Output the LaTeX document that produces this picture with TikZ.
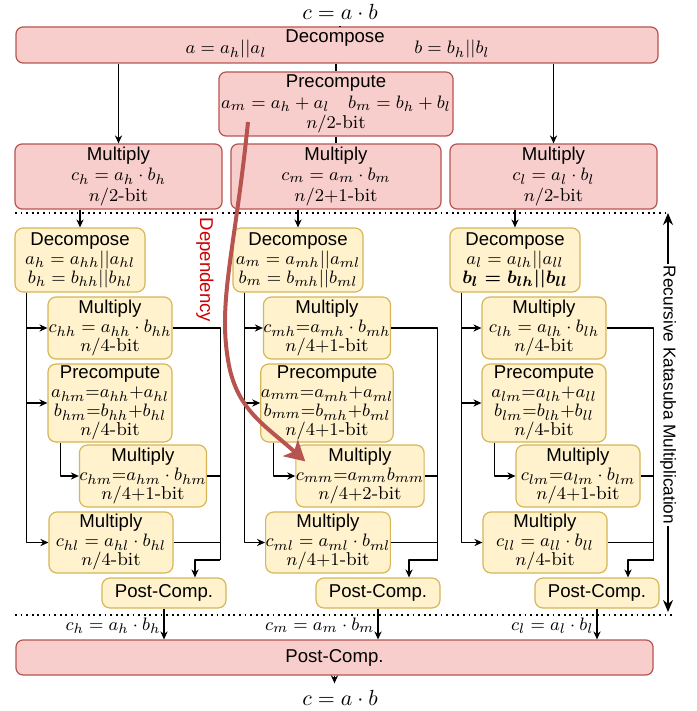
\documentclass[tikz,border=0pt]{standalone}
\usepackage{amsmath}
\usepackage{fontspec}
\setsansfont{Liberation Sans}
\usetikzlibrary{arrows.meta}
\definecolor{pinkfill}{HTML}{F8CECC}
\definecolor{pinkline}{HTML}{B85450}
\definecolor{yelfill}{HTML}{FFF2CC}
\definecolor{yelline}{HTML}{D6B656}
\definecolor{depred}{HTML}{CC0000}
\begin{document}
\begin{tikzpicture}[x=0.5pt, y=-0.5pt, >={Stealth[length=4pt,width=3.6pt]},
    font=\sffamily\fontsize{9.3}{10.4}\selectfont, line join=round,
    pinkbox/.style={draw=pinkline, fill=pinkfill, line width=0.6pt, rounded corners=3.5pt, align=center, inner sep=0pt},
    yelbox/.style={draw=yelline, fill=yelfill, line width=0.6pt, rounded corners=4pt, align=center, inner sep=0pt,
        minimum width=62pt, font=\sffamily\fontsize{9.3}{9.5}\selectfont},
    conn/.style={->, line width=0.6pt},
    wire/.style={line width=0.6pt},
    dots/.style={line width=0.9pt, dash pattern=on 0.9pt off 1.9pt},
    eqn/.style={font=\fontsize{11}{13}\selectfont}]
    \useasboundingbox (0,0) rectangle (696,711);
    % top level
    \node[eqn] (ctop) at (340,12) {$c = a\cdot b$};
    \node[pinkbox, minimum width=321pt, minimum height=18pt] (dec) at (337,45) {};
    \node (dectitle) at (335,38) {Decompose};
    \node (deca) at (226,49) {$a = a_h||a_l$};
    \node (decb) at (452,49) {$b = b_h||b_l$};
    \node[pinkbox, minimum width=117pt, minimum height=32pt] (pre) at (336,104) {Precompute\\$a_m = a_h + a_l \quad b_m = b_h + b_l$\\$n/2$\textrm{-bit}};
    \node[pinkbox, minimum width=103.5pt, minimum height=32.5pt] (mulh) at (118.5,176.5) {Multiply\\$c_h = a_h\cdot b_h$\\$n/2$\textrm{-bit}};
    \node[pinkbox, minimum width=105pt, minimum height=32.5pt] (mulm) at (336,176.5) {Multiply\\$c_m = a_m\cdot b_m$\\$n/2{+}1$\textrm{-bit}};
    \node[pinkbox, minimum width=103.5pt, minimum height=32.5pt] (mull) at (553.5,176.5) {Multiply\\$c_l = a_l\cdot b_l$\\$n/2$\textrm{-bit}};
    % high half
    \node[yelbox, minimum width=65pt, minimum height=32pt] (dech) at (80,260) {Decompose\\$a_h = a_{hh}||a_{hl}$\\$b_h = b_{hh}||b_{hl}$};
    \node[yelbox, minimum height=31pt] (mulhh) at (110,328) {Multiply\\$c_{hh} = a_{hh}\cdot b_{hh}$\\$n/4$\textrm{-bit}};
    \node[yelbox, minimum height=39pt] (prehm) at (110,403) {Precompute\\$a_{hm}{=}a_{hh}{+}a_{hl}$\\$b_{hm}{=}b_{hh}{+}b_{hl}$\\$n/4$\textrm{-bit}};
    \node[yelbox, minimum height=31pt] (mulhm) at (143,476) {Multiply\\$c_{hm}{=}a_{hm}\cdot b_{hm}$\\$n/4{+}1$\textrm{-bit}};
    \node[yelbox, minimum height=30.5pt] (mulhl) at (111,542.5) {Multiply\\$c_{hl} = a_{hl}\cdot b_{hl}$\\$n/4$\textrm{-bit}};
    \node[yelbox, minimum height=15pt] (posth) at (164,593) {Post-Comp.};
    % middle
    \node[yelbox, minimum width=65pt, minimum height=32pt] (decm) at (298,260) {Decompose\\$a_m = a_{mh}||a_{ml}$\\$b_m = b_{mh}||b_{ml}$};
    \node[yelbox, minimum height=31pt] (mulmh) at (327,328) {Multiply\\$c_{mh}{=}a_{mh}\cdot b_{mh}$\\$n/4{+}1$\textrm{-bit}};
    \node[yelbox, minimum height=39pt] (premm) at (327,403) {Precompute\\$a_{mm}{=}a_{mh}{+}a_{ml}$\\$b_{mm}{=}b_{mh}{+}b_{ml}$\\$n/4{+}1$\textrm{-bit}};
    \node[yelbox, minimum height=31pt] (mulmm) at (360,476) {Multiply\\$c_{mm}{=}a_{mm}b_{mm}$\\$n/4{+}2$\textrm{-bit}};
    \node[yelbox, minimum height=30.5pt] (mulml) at (328,542.5) {Multiply\\$c_{ml} = a_{ml}\cdot b_{ml}$\\$n/4{+}1$\textrm{-bit}};
    \node[yelbox, minimum height=15pt] (postm) at (378,593) {Post-Comp.};
    % low half
    \node[yelbox, minimum width=65pt, minimum height=32pt] (decl) at (515,260) {Decompose\\$a_l = a_{lh}||a_{ll}$\\$\boldsymbol{b_l = b_{lh}||b_{ll}}$};
    \node[yelbox, minimum height=31pt] (mullh) at (544,328) {Multiply\\$c_{lh} = a_{lh}\cdot b_{lh}$\\$n/4$\textrm{-bit}};
    \node[yelbox, minimum height=39pt] (prelm) at (544,403) {Precompute\\$a_{lm}{=}a_{lh}{+}a_{ll}$\\$b_{lm}{=}b_{lh}{+}b_{ll}$\\$n/4$\textrm{-bit}};
    \node[yelbox, minimum height=31pt] (mullm) at (578,476) {Multiply\\$c_{lm}{=}a_{lm}\cdot b_{lm}$\\$n/4{+}1$\textrm{-bit}};
    \node[yelbox, minimum height=30.5pt] (mulll) at (545,542.5) {Multiply\\$c_{ll} = a_{ll}\cdot b_{ll}$\\$n/4$\textrm{-bit}};
    \node[yelbox, minimum height=15pt] (postl) at (597,593) {Post-Comp.};
    % bottom
    \node[pinkbox, minimum width=318.5pt, minimum height=17.5pt] (post) at (334.5,657.5) {Post-Comp.};
    \node[eqn] (cbot) at (340,698) {$c = a\cdot b$};

    \draw[wire] (ctop.south) -- (ctop.south |- dec.north);
    \draw[wire] (pre.north |- dec.south) -- (pre);
    \draw[wire] (pre) -- (pre.south |- mulm.north);
    \draw[conn] (dec.south -| mulh) -- (mulh);
    \draw[conn] (dec.south -| mull) -- (mull);
    \foreach \s in {h,m,l}{
        \draw[conn] (mul\s.south -| dec\s) -- (dec\s);
        \draw[conn] ([xshift=6pt]dec\s.south west) |- (mul\s h);
        \draw[conn] ([xshift=6pt]dec\s.south west) |- (pre\s m);
        \draw[conn] ([xshift=6pt]dec\s.south west) |- (mul\s l);
        \draw[conn] ([xshift=6.5pt]pre\s m.south west) |- (mul\s m);
        \path ([xshift=6.5pt]mul\s m.east) ++(0,84) coordinate (join\s);
        \draw[wire] (mul\s h.east) -| (join\s);
        \draw[wire] (mul\s m.east) -- (mul\s m.east -| join\s);
        \draw[wire] (mul\s l.east) -- (mul\s l.east -| join\s);
        \draw[conn] (join\s) -| ([xshift=15.5pt]post\s.north);
        \draw[conn] (post\s) -- (post\s.south |- post.north) node[pos=0.55, left, inner sep=1.5pt] {$c_\s = a_\s\cdot b_\s$};
    }
    \draw[conn] (post) -- (post.south |- cbot.north);

    \draw[dots] (15,213) -- (665,213);
    \draw[dots] (15,615) -- (673,615);
    \draw[line width=0.6pt, {Stealth[length=6pt,width=5pt]}-{Stealth[length=6pt,width=5pt]}] (668,213) -- (668,612);
    \node[fill=white, rotate=-90, inner sep=1pt, font=\sffamily\fontsize{8.6}{10}\selectfont] (recur) at (668,395) {Recursive Katasuba Multiplication};

    % dependency between the two middle products
    \draw[pinkline, line width=2pt, -{Stealth[length=10pt,width=11pt,inset=2.5pt]}]
        ([xshift=-44pt,yshift=-9pt]pre.center) .. controls (235,250) and (218,300) .. (228,360)
        .. controls (236,410) and (265,425) .. ([xshift=5pt,yshift=-8.5pt]mulmm.north west);
    \node[rotate=-90, text=depred] (deptxt) at (205,270) {Dependency};
\end{tikzpicture}
\end{document}
